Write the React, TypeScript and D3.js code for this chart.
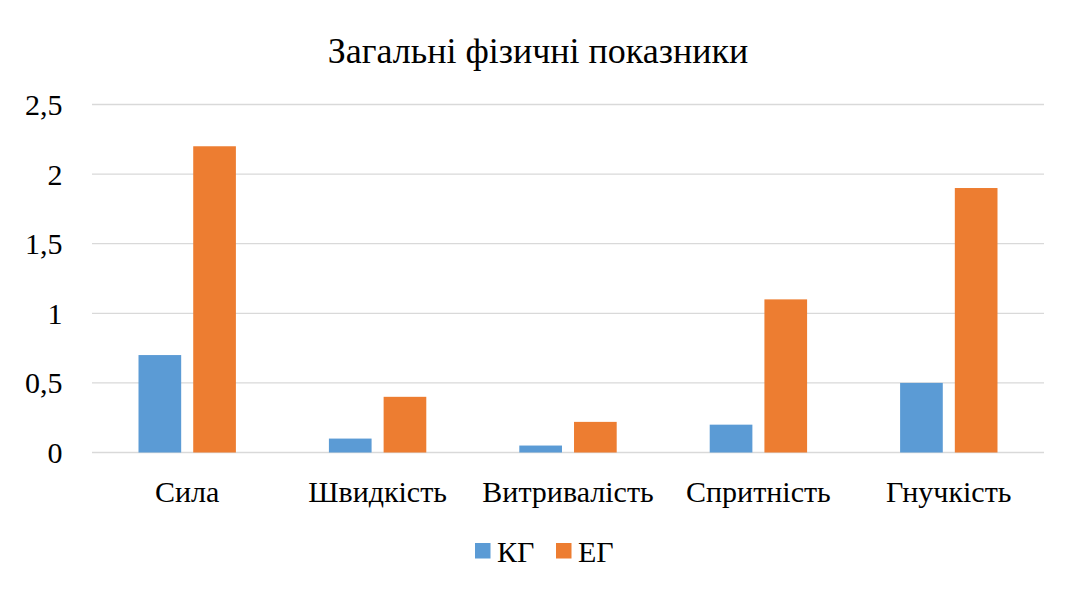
import React from 'react';
import * as d3 from 'd3';

const categories = ['Сила', 'Швидкість', 'Витривалість', 'Спритність', 'Гнучкість'];
const seriesNames = ['КГ', 'ЕГ'];
const kgValues = [0.7, 0.1, 0.05, 0.2, 0.5];
const egValues = [2.2, 0.4, 0.22, 1.1, 1.9];
const yTicks = [0, 0.5, 1, 1.5, 2, 2.5];
const colors = ['#5B9BD5', '#ED7D31'];

const W = 1070;
const H = 590;
const PAGE_MARGIN = 8;
const FONT = "'Liberation Serif'";

export default function App() {
  const x0 = d3.scaleBand<string>().domain(categories).range([92, 1044]);
  const x1 = d3
    .scaleBand<string>()
    .domain(seriesNames)
    .range([0, x0.bandwidth()])
    .paddingInner(0.22)
    .paddingOuter(0.85);
  const y = d3.scaleLinear().domain([0, 2.5]).range([452.5, 104.5]);
  const fmt = (v: number) => String(v).replace('.', ',');
  const values = [kgValues, egValues];

  return (
    <svg width={W - PAGE_MARGIN} height={H - PAGE_MARGIN}>
      <g transform={`translate(${-PAGE_MARGIN},${-PAGE_MARGIN})`}>
        <rect x={7.5} y={7.5} width={W + 10} height={H + 10} fill="none" stroke="#D9D9D9" />
        <text x={538} y={62.5} textAnchor="middle" style={{ fontFamily: FONT, fontSize: 36 }}>
          Загальні фізичні показники
        </text>
        {yTicks.map((t) => (
          <g key={t}>
            <line x1={92} x2={1044} y1={y(t)} y2={y(t)} stroke="#D9D9D9" strokeWidth={1.3} />
            <text x={62.5} y={y(t) + 10.5} textAnchor="end" style={{ fontFamily: FONT, fontSize: 30 }}>
              {fmt(t)}
            </text>
          </g>
        ))}
        {categories.map((c, i) => (
          <g key={c} transform={`translate(${x0(c)},0)`}>
            {seriesNames.map((s, j) => (
              <rect
                key={s}
                x={x1(s)}
                width={x1.bandwidth()}
                y={y(values[j][i])}
                height={y(0) - y(values[j][i])}
                fill={colors[j]}
              />
            ))}
            <text
              x={x0.bandwidth() / 2}
              y={502}
              textAnchor="middle"
              style={{ fontFamily: FONT, fontSize: 30 }}
            >
              {c}
            </text>
          </g>
        ))}
        {seriesNames.map((s, j) => (
          <g key={s} transform={`translate(${475 + j * 81},543)`}>
            <rect width={15.5} height={15.5} fill={colors[j]} />
            <text x={22} y={19} style={{ fontFamily: FONT, fontSize: 30 }}>
              {s}
            </text>
          </g>
        ))}
      </g>
    </svg>
  );
}
